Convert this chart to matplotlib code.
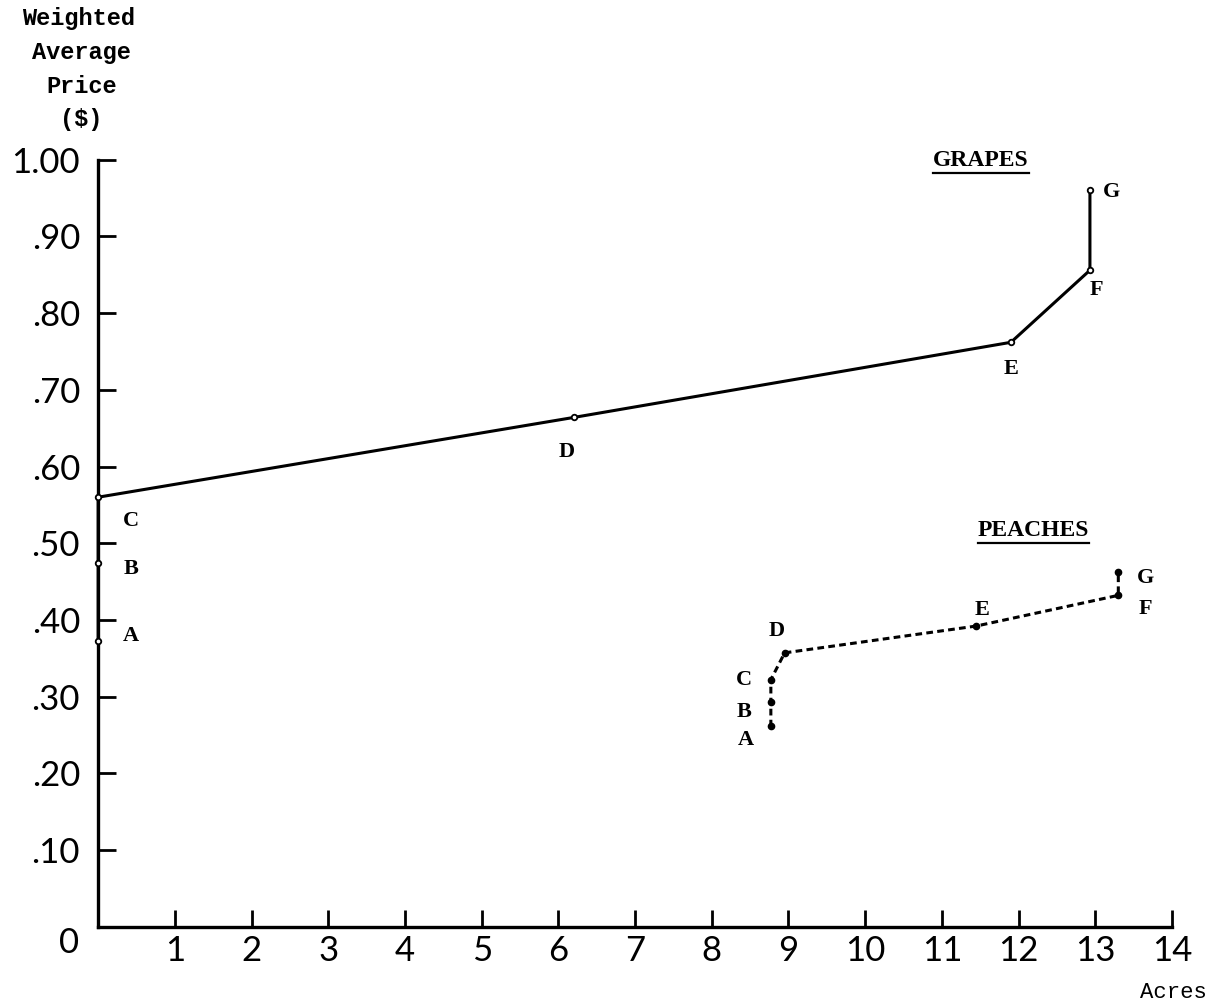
import matplotlib
matplotlib.use("Agg")
import matplotlib.pyplot as plt
from matplotlib.lines import Line2D

# grapes: cumulative acres vs weighted average price
grape_acres = [0, 0, 0, 6.2, 11.9, 12.93, 12.93]
grape_price = [0.372, 0.474, 0.56, 0.664, 0.762, 0.856, 0.96]
grape_labels = ["A", "B", "C", "D", "E", "F", "G"]

# peaches
peach_acres = [8.77, 8.77, 8.77, 8.95, 11.45, 13.3, 13.3]
peach_price = [0.261, 0.293, 0.322, 0.357, 0.392, 0.432, 0.462]
peach_labels = ["A", "B", "C", "D", "E", "F", "G"]

x_ticks = list(range(1, 15))
y_ticks = [0.1, 0.2, 0.3, 0.4, 0.5, 0.6, 0.7, 0.8, 0.9, 1.0]
y_ticklabels = [".10", ".20", ".30", ".40", ".50", ".60", ".70", ".80", ".90", "1.00"]

# label offsets in pixels (dx, dy)
grape_off = [(33, 5), (33, -6), (33, -24), (-7, -35), (0, -27), (6, -20), (22, -2)]
peach_off = [(-25, -14), (-27, -10), (-27, 0), (-8, 22), (6, 16), (27, -14), (27, -6)]

fig = plt.figure(figsize=(12.12, 10.05), dpi=100)
ax = fig.add_axes([0.081, 0.078, 0.886, 0.763])

ax.plot(grape_acres, grape_price, color="black", lw=2.2, marker="o", ms=4,
        mfc="white", mec="black", mew=1.3, clip_on=False, zorder=3)
ax.plot(peach_acres, peach_price, color="black", lw=2.2, ls=(0, (2.2, 1.4)),
        marker="o", ms=4.5, mfc="black", mec="black", clip_on=False, zorder=3)

letter_font = dict(family="Liberation Serif", fontsize=16, fontweight="bold",
                   color="black")
for x, y, lab, off in zip(grape_acres, grape_price, grape_labels, grape_off):
    ax.annotate(lab, (x, y), xytext=off, textcoords="offset pixels",
                ha="center", va="center", **letter_font)
for x, y, lab, off in zip(peach_acres, peach_price, peach_labels, peach_off):
    ax.annotate(lab, (x, y), xytext=off, textcoords="offset pixels",
                ha="center", va="center", **letter_font)

ax.set_xlim(0, 14)
ax.set_ylim(0, 1.0)
for s in ["top", "right"]:
    ax.spines[s].set_visible(False)
for s in ["left", "bottom"]:
    ax.spines[s].set_linewidth(2.4)

tick_font = dict(family=["Lato", "DejaVu Sans"], fontsize=25)
ax.set_xticks(x_ticks)
ax.set_xticklabels([str(t) for t in x_ticks], **tick_font)
ax.set_yticks(y_ticks)
ax.set_yticklabels(y_ticklabels, **tick_font)
ax.tick_params(axis="x", direction="in", length=12, width=2, pad=6)
ax.tick_params(axis="y", direction="in", length=13, width=2, pad=13)

ax.annotate("0", (0, 0), xytext=(-29, -16), textcoords="offset pixels",
            ha="center", va="center", **tick_font)

mono = dict(family="Liberation Mono", fontsize=17, fontweight="bold")
fig.text(0.065, 0.982, "Weighted", ha="center", va="center", **mono)
fig.text(0.067, 0.948, "Average", ha="center", va="center", **mono)
fig.text(0.067, 0.914, "Price", ha="center", va="center", **mono)
fig.text(0.067, 0.881, "($)", ha="center", va="center", **mono)
fig.text(0.968, 0.012, "Acres", ha="center", va="center",
         family="Liberation Mono", fontsize=16)

head_font = dict(family="Liberation Serif", fontsize=17, fontweight="bold",
                 ha="center", va="center")
t1 = ax.annotate("GRAPES", (12.93, 0.96), xytext=(-109, 30),
                 textcoords="offset pixels", **head_font)
t2 = ax.annotate("PEACHES", (13.3, 0.462), xytext=(-85, 42),
                 textcoords="offset pixels", **head_font)

# underline the two headings
fig.canvas.draw()
for t in (t1, t2):
    bb = t.get_window_extent()
    y = bb.y0 - 2
    fig.add_artist(Line2D([bb.x0, bb.x1], [y, y], transform=None,
                          color="black", lw=1.6))

fig.savefig("out.png", dpi=100)
